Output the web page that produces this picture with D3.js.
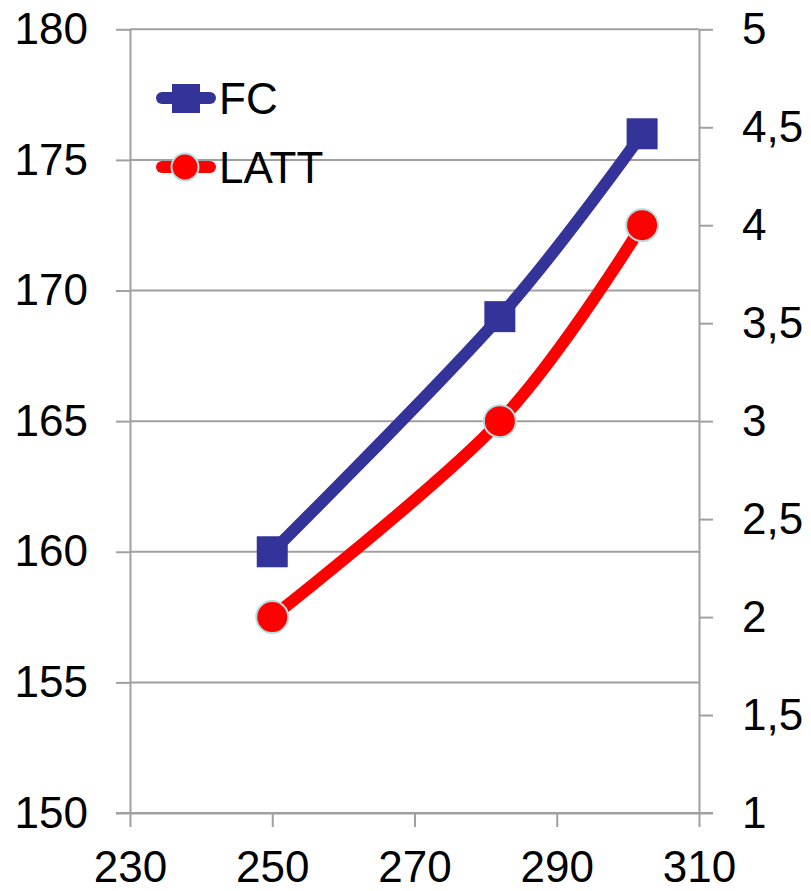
<!DOCTYPE html>
<html>
<head>
<meta charset="utf-8">
<script src="https://cdn.jsdelivr.net/npm/d3@7"></script>
<style>
  html, body { margin: 0; padding: 0; background: #fff; }
  svg { display: block; font-family: "Liberation Sans", Arial, sans-serif; }
</style>
</head>
<body>
<svg id="chart" width="811" height="891"></svg>
<script>
// Temperature (x) against FC (left axis) and LATT (right axis)
const xValues   = [250, 282, 302];
const fcValues  = [160, 169, 176];
const lattValues = [2, 3, 4];

const xTicks     = [230, 250, 270, 290, 310];
const leftTicks  = [150, 155, 160, 165, 170, 175, 180];
const rightTicks = [1, 1.5, 2, 2.5, 3, 3.5, 4, 4.5, 5];

const seriesNames = ["FC", "LATT"];
const seriesColors = ["#333399", "#ff0000"];

const svg = d3.select("#chart");
const plot = { left: 130, right: 699, top: 29.3, bottom: 813 };

const x  = d3.scaleLinear().domain([230, 310]).range([plot.left, plot.right]);
const yL = d3.scaleLinear().domain([150, 180]).range([plot.bottom, plot.top]);
const yR = d3.scaleLinear().domain([1, 5]).range([plot.bottom, plot.top]);

const gridColor = "#a0a0a0";

// horizontal gridlines at the left-axis ticks
svg.append("g").selectAll("line").data(leftTicks).join("line")
  .attr("x1", plot.left).attr("x2", plot.right)
  .attr("y1", d => yL(d)).attr("y2", d => yL(d))
  .attr("stroke", gridColor).attr("stroke-width", 2);

function styleAxis(g) {
  g.selectAll("path").attr("stroke", gridColor).attr("stroke-width", 2);
  g.selectAll("line").attr("stroke", gridColor).attr("stroke-width", 2);
  g.selectAll("text").attr("fill", "#000").attr("font-size", 44)
    .attr("font-family", "'Liberation Sans', Arial, sans-serif");
}

svg.append("g").attr("transform", `translate(${plot.left},0)`)
  .call(d3.axisLeft(yL).tickValues(leftTicks).tickSize(14).tickSizeOuter(0).tickPadding(28)
    .tickFormat(d3.format("d")))
  .call(styleAxis);

svg.append("g").attr("transform", `translate(${plot.right},0)`)
  .call(d3.axisRight(yR).tickValues(rightTicks).tickSize(14).tickSizeOuter(0).tickPadding(29)
    .tickFormat(d => String(d).replace(".", ",")))
  .call(styleAxis);

svg.append("g").attr("transform", `translate(0,${plot.bottom})`)
  .call(d3.axisBottom(x).tickValues(xTicks).tickSize(14).tickSizeOuter(0).tickPadding(24)
    .tickFormat(d3.format("d")))
  .call(styleAxis);

// extend the x axis line over the outer tick marks of both value axes
svg.append("line")
  .attr("x1", plot.left - 14).attr("x2", plot.right + 14)
  .attr("y1", plot.bottom).attr("y2", plot.bottom)
  .attr("stroke", gridColor).attr("stroke-width", 2);

const curve = d3.curveCardinal.tension(0);
const fcLine = d3.line().x((d, i) => x(xValues[i])).y(d => yL(d)).curve(curve);
const lattLine = d3.line().x((d, i) => x(xValues[i])).y(d => yR(d)).curve(curve);

svg.append("path").attr("d", fcLine(fcValues))
  .attr("fill", "none").attr("stroke", seriesColors[0]).attr("stroke-width", 12)
  .attr("stroke-linejoin", "round");
svg.append("path").attr("d", lattLine(lattValues))
  .attr("fill", "none").attr("stroke", seriesColors[1]).attr("stroke-width", 12)
  .attr("stroke-linejoin", "round");

const sq = 31;
svg.append("g").selectAll("rect").data(fcValues).join("rect")
  .attr("x", (d, i) => x(xValues[i]) - sq / 2)
  .attr("y", d => yL(d) - sq / 2)
  .attr("width", sq).attr("height", sq)
  .attr("fill", seriesColors[0]);

svg.append("g").selectAll("circle").data(lattValues).join("circle")
  .attr("cx", (d, i) => x(xValues[i]))
  .attr("cy", d => yR(d))
  .attr("r", 16)
  .attr("fill", seriesColors[1])
  .attr("stroke", "#b4dede").attr("stroke-width", 2);

// legend
const legend = svg.append("g");
const legendY = [98, 167];
seriesNames.forEach((name, i) => {
  const g = legend.append("g").attr("transform", `translate(0,${legendY[i]})`);
  g.append("line").attr("x1", 162).attr("x2", 210).attr("y1", 0).attr("y2", 0)
    .attr("stroke", seriesColors[i]).attr("stroke-width", 12).attr("stroke-linecap", "round");
  if (i === 0) {
    g.append("rect").attr("x", 172).attr("y", -14).attr("width", 28).attr("height", 29)
      .attr("fill", seriesColors[0]);
  } else {
    g.append("circle").attr("cx", 185).attr("cy", 0).attr("r", 13.5)
      .attr("fill", seriesColors[1]).attr("stroke", "#b4dede").attr("stroke-width", 2);
  }
  g.append("text").attr("x", 219).attr("y", 16)
    .attr("font-size", 44).attr("fill", "#000").text(name);
});
</script>
</body>
</html>
